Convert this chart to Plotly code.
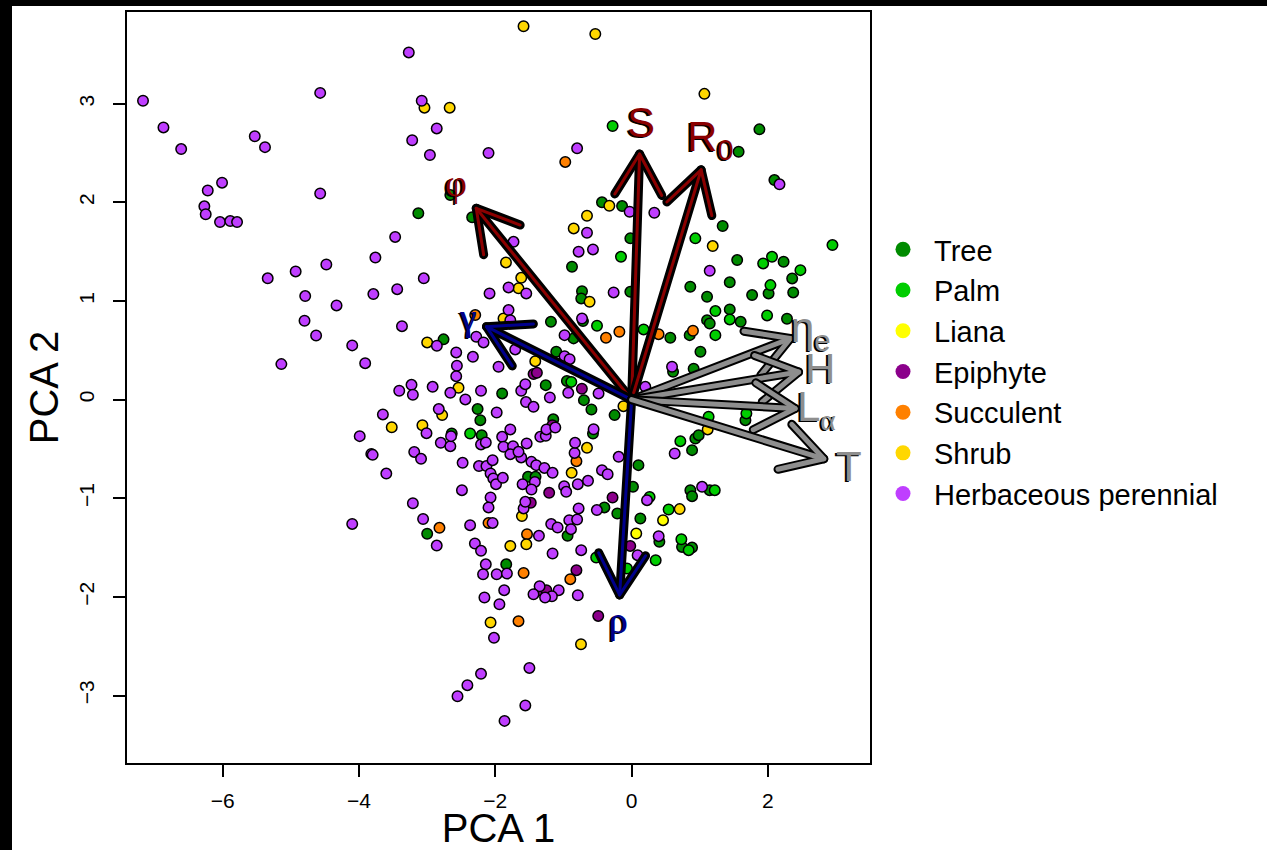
import math
import plotly.graph_objects as go

# ---------------- data ----------------
categories = ["Tree", "Palm", "Liana", "Epiphyte", "Succulent", "Shrub", "Herbaceous perennial"]
colors = ["#008B00", "#00CD00", "#FFFF00", "#8B008B", "#FF8000", "#FFD700", "#BF3EFF"]

tree_x = [-3.13, -2.34, -2.66, -0.435, -0.14, 1.336, 1.875, 1.57, 2.095, -0.875, -0.019, -0.728, -0.739,
          -0.019, 0.861, 1.549, 2.23, 2.356, 1.44, 1.107, 1.768, 2.01, 2.371, 1.44, 1.60, 2.28, 1.107, 1.146,
          0.852, 0.568, -0.714, -1.184, -0.852, -2.76, -1.106, -0.95, 0.608, 1.01, 0.91,
          -1.90, -1.26, -0.70, -0.59, -0.25, -2.26, -2.22, -2.64, -2.20, -1.15, -1.84, -1.52, -1.41, -0.567,
          0.10, 0.02, -0.40, -0.94, 0.128, -0.21, -3.0,
          1.67, 0.935, 0.984, 0.887, 0.862, 0.887, 1.146, 0.407, 0.74, 0.887]
tree_y = [1.89, 1.848, 2.074, 2.0, 1.962, 1.76, 2.74, 2.513, 2.226, 1.347, 1.635, 1.10, 1.026,
          1.093, 1.144, 1.415, 1.398, 1.229, 1.189, 1.043, 1.06, 1.077, 1.087, 0.915, 0.789, 0.82, 0.806, 0.772,
          0.654, 0.627, 0.796, 0.789, 0.621, 0.611, 0.485, 0.19, 0.282, 0.485, 0.313,
          0.063, 0.147, -0.005, -0.10, -0.157, -0.096, -0.208, -0.343, -0.36, -0.20, -1.67, -0.783, -0.783, -0.343,
          -0.664, -0.884, -1.093, -1.381, -1.205, -1.155, -1.36,
          -0.208, -0.394, -0.36, -0.512, -0.918, -0.979, -0.918, -1.442, -1.493, -1.50]

palm_x = [-0.279, 0.935, 2.947, -0.156, 1.93, 2.06, 2.477, 2.037, 1.229, 1.44, 1.988, 1.229, 0.176, -0.508,
          -0.885, -2.37, 0.264, -0.52, 1.684, 1.13, 0.715, 1.22, 0.543, 0.73, 0.837, 0.353, -0.068]
palm_y = [2.774, 1.635, 1.567, 1.448, 1.381, 1.448, 1.313, 1.161, 0.898, 0.813, 0.854, 0.654, 0.712, 0.749,
          0.18, -0.343, -0.986, -1.60, -0.14, -0.174, -0.421, -0.918, -1.114, -1.415, -1.526, -1.628, -1.712]

liana_x = [0.068, 0.461]
liana_y = [-1.357, -1.222]

epiphyte_x = [-0.73, -1.163, -1.48, -1.21, -0.81, -1.35, -1.25, -0.28, -0.02, -0.49, -1.439, -1.39]
epiphyte_y = [0.11, -0.259, -1.046, -0.945, -1.729, -1.932, -1.932, -0.992, -1.483, -2.193, 0.259, 0.272]

succulent_x = [-0.974, 0.90, 0.396, -0.18, -0.376, -2.295, -2.10, -1.66, -1.585, -0.81, -1.535, -0.90, -2.82]
succulent_y = [2.41, 0.698, 0.664, 0.688, 0.627, 0.857, -1.25, -2.246, -1.757, -0.624, -1.364, -1.82, -1.30]

shrub_x = [-3.04, -2.67, -3.0, -3.52, -3.07, -2.54, -2.78, -0.12, -2.07, -1.78, -1.61, -0.880, -0.655, -1.545,
           -0.743, 1.116, 0.705, -1.586, -0.533, 1.068, -0.327, 1.19, -0.655, -0.85, -1.844, -1.62, -1.66,
           -0.617, -1.88, -1.414]
shrub_y = [2.96, 2.96, 0.58, -0.28, -0.26, 0.12, -0.157, -0.066, -2.26, -1.483, -1.181, -0.742, -0.489, -1.466,
           -2.48, -0.302, -1.11, 3.785, 3.707, 3.10, 1.966, 1.557, 1.864, 1.736, 1.391, 1.235, 1.128,
           0.992, 0.823, 0.39]

herb_x = [-7.17, -6.87, -6.61, -6.01, -6.22, -6.27, -6.25, -6.04, -5.89, -5.79, -5.53, -5.38, -4.57, -4.57,
          -3.27, -3.08, -2.86, -3.22, -2.96, -3.47, -3.76, -5.34, -4.93, -4.48, -4.79, -3.79, -3.44, -3.05,
          -4.33, -4.80, -4.63, -4.10, -3.37, -5.14, -3.91, -3.23, -3.41, -3.21, -3.65, -3.01, -3.99, -3.82,
          -3.80, -3.19, -3.09, -3.60, -3.21, -3.06, -4.10, -2.86,
          -2.92, -2.66, -2.44, -2.21, -1.62, -1.56, -1.55, -1.44, -1.20, -0.93, -0.485, -2.83, -1.98, -2.80,
          -2.66, -2.65, -2.21, -2.14, -1.90, -1.78, -1.88, -1.74, -1.78, -1.62, -1.66, -1.54, -1.34, -1.26,
          -1.25, -1.12, -2.48, -2.24, -2.13, -2.04, -2.07, -2.03, -1.99, -1.89, -2.49, -2.07, -2.10, -2.37,
          -2.04, -2.30, -2.21, -2.14, -2.18, -1.98, -1.83, -1.87, -2.16, -1.94, -1.585, -1.56, -1.60, -1.42,
          -1.47, -1.47, -1.40, -1.28, -1.16, -0.99, -0.96, -0.79, -0.64, -0.837, -0.83, -0.558, -0.435,
          -0.352, -0.19, -0.51, -0.778, -0.915, -0.80, -0.89, -1.18, -1.086, -1.36, -1.16, -0.74, -0.79,
          -1.07, -1.17, -1.27, -1.35, -1.44, 0.088, 0.226,
          -2.02, -1.50, -2.21, -2.41, -2.555, -1.56, -1.865,
          0.632, 1.034, 0.397,
          -2.10, -0.80, 2.17, -0.029, 0.333, -0.655, -0.778, -0.567, -1.733, -1.806, -1.546, -2.085, -0.264,
          1.146, -0.984, -0.728, -1.806, -1.78, -2.858, -2.28, -2.173, -2.574, -2.329, -2.564, -2.574,
          -1.953, -1.708, -0.984, -0.91, 0.201, 0.593]
herb_y = [3.03, 2.76, 2.54, 2.20, 2.12, 1.96, 1.88, 1.80, 1.81, 1.80, 2.67, 2.56, 3.11, 2.09,
          3.52, 3.03, 2.75, 2.63, 2.48, 1.65, 1.44, 1.23, 1.30, 1.37, 1.05, 1.07, 1.12, 1.23,
          0.955, 0.80, 0.65, 0.55, 0.745, 0.36, 0.37, 0.15, 0.09, 0.05, -0.15, -0.34, -0.37, -0.55,
          -0.56, -0.53, -0.60, -0.75, -1.05, -1.21, -1.26, -1.48,
          0.13, 0.069, 0.002, 0.09, 0.09, 0.157, -0.025, -0.073, 0.022, 0.069, 0.063, -0.096, -0.13, -0.438,
          -0.472, -0.37, -0.454, -0.434, -0.377, -0.302, -0.478, -0.472, -0.553, -0.586, -0.529, -0.444, -0.377, -0.367,
          -0.302, -0.282, -0.641, -0.674, -0.674, -0.614, -0.748, -0.799, -0.857, -0.793, -0.918, -0.992, -1.093, -1.273,
          -1.25, -1.459, -1.533, -1.67, -1.77, -1.77, -1.763, -1.932, -2.006, -2.074, -1.103, -1.036, -0.857, -0.834,
          -0.911, -0.631, -0.664, -0.692, -0.742, -0.877, -0.935, -0.857, -0.823, -0.54, -0.438, -0.30, -0.715,
          -0.756, -0.58, -1.12, -1.103, -1.222, -1.215, -1.313, -1.262, -1.296, -1.381, -1.56, -1.526, -1.983,
          -1.932, -1.993, -2.006, -1.892, -1.973, -1.577, -1.019,
          -2.415, -2.72, -2.78, -2.895, -3.007, -3.10, -3.257,
          -0.546, -0.884, -1.384,
          2.50, 2.548, 2.183, 1.905, 1.895, 1.692, 1.50, 1.523, 1.60, 1.138, 1.077, 1.077, 1.087,
          1.306, 0.654, 0.823, 0.908, 0.806, 0.546, 0.637, 0.58, 0.479, 0.434, 0.343, 0.238,
          0.333, 0.509, 0.44, 0.41, 0.13, 0.333]

series_x = [tree_x, palm_x, liana_x, epiphyte_x, succulent_x, shrub_x, herb_x]
series_y = [tree_y, palm_y, liana_y, epiphyte_y, succulent_y, shrub_y, herb_y]

# loading arrows (biplot vectors)
arrow_labels = ["S", "R<sub>0</sub>", "φ", "γ", "ρ", "η<sub>e</sub>", "H",
                "L<sub><span style='font-family:Liberation Serif'>α</span></sub>", "T"]
arrow_x = [0.117, 1.02, -2.28, -2.13, -0.176, 2.33, 2.45, 2.40, 2.82]
arrow_y = [2.49, 2.33, 1.94, 0.74, -1.98, 0.62, 0.28, -0.09, -0.60]
arrow_group = ["red", "red", "red", "blue", "blue", "gray", "gray", "gray", "gray"]

x_ticks = [-6, -4, -2, 0, 2]
y_ticks = [-3, -2, -1, 0, 1, 2, 3]

# ---------------- layout constants ----------------
W, H = 1267, 850
ML, MR, MT, MB = 127, 397, 12, 87
XR = [-7.405, 3.498]
YR = [-3.684, 3.93]
sx = (W - ML - MR) / (XR[1] - XR[0])
sy = (H - MT - MB) / (YR[1] - YR[0])

group_color = {"red": "#8B0000", "blue": "#00008B", "gray": "#8E8E8E"}
group_width = {"red": 3, "blue": 3, "gray": 5}
greek_serif = {"φ", "γ", "ρ"}
HEAD_LEN = 47  # px
HEAD_ANG = math.radians(30)
LABEL_SCALE = 1.13

fig = go.Figure()

# points
for name, col, xs, ys in zip(categories, colors, series_x, series_y):
    fig.add_trace(go.Scatter(
        x=xs, y=ys, mode="markers", name=name, showlegend=False,
        marker=dict(size=10.5, color=col, line=dict(color="black", width=1.5)),
        hoverinfo="skip"))

# arrows
for lab, ax, ay, grp in zip(arrow_labels, arrow_x, arrow_y, arrow_group):
    dxp, dyp = ax * sx, ay * sy
    n = math.hypot(dxp, dyp)
    ux, uy = -dxp / n, -dyp / n
    arms = []
    for a in (HEAD_ANG, -HEAD_ANG):
        rx = ux * math.cos(a) - uy * math.sin(a)
        ry = ux * math.sin(a) + uy * math.cos(a)
        arms.append((ax + rx * HEAD_LEN / sx, ay + ry * HEAD_LEN / sy))
    px = [0, ax, None, arms[0][0], ax, arms[1][0]]
    py = [0, ay, None, arms[0][1], ay, arms[1][1]]
    fig.add_trace(go.Scatter(x=px, y=py, mode="lines", showlegend=False, hoverinfo="skip",
                             line=dict(color="black", width=9)))
    fig.add_trace(go.Scatter(x=px, y=py, mode="lines", showlegend=False, hoverinfo="skip",
                             line=dict(color=group_color[grp], width=group_width[grp])))

# legend-only entries (solid dots as in the original legend)
for name, col in zip(categories, colors):
    fig.add_trace(go.Scatter(x=[None], y=[None], mode="markers", name=name,
                             marker=dict(size=15, color=col)))

# arrow labels with dark shadow
for lab, ax, ay, grp in zip(arrow_labels, arrow_x, arrow_y, arrow_group):
    serif = lab in greek_serif
    fam = "Liberation Serif" if serif else "Liberation Sans"
    size = 38 if serif else 42
    for col, xs_, ys_ in (("black", -2, -1), (group_color[grp], 0, 0)):
        fig.add_annotation(x=ax * LABEL_SCALE, y=ay * LABEL_SCALE, text=lab, showarrow=False,
                           xanchor="center", yanchor="middle", xshift=xs_, yshift=ys_,
                           font=dict(family=fam, size=size, color=col))

# black frame bars at left and top of the image
pw = W - ML - MR
ph = H - MT - MB
fig.add_shape(type="rect", xref="paper", yref="paper", layer="below",
              x0=-ML / pw - 0.01, x1=(12 - ML) / pw, y0=-MB / ph - 0.05, y1=(ph + MT) / ph + 0.05,
              fillcolor="black", line=dict(width=0))
fig.add_shape(type="rect", xref="paper", yref="paper", layer="below",
              x0=-ML / pw - 0.01, x1=(W - ML) / pw + 0.01, y0=(ph + MT - 6) / ph, y1=(ph + MT) / ph + 0.05,
              fillcolor="black", line=dict(width=0))

axis_common = dict(showgrid=False, zeroline=False, showline=True, linecolor="black", linewidth=1.5,
                   mirror=True, ticks="outside", ticklen=12, tickwidth=1.5, tickcolor="black",
                   tickfont=dict(size=21, color="black", family="Liberation Sans"))

fig.update_layout(
    width=W, height=H,
    margin=dict(l=ML, r=MR, t=MT, b=MB, autoexpand=False),
    paper_bgcolor="white", plot_bgcolor="white",
    font=dict(family="Liberation Sans", color="black"),
    xaxis=dict(range=XR, tickvals=x_ticks, ticklabelstandoff=6,
               title=dict(text="PCA 1", font=dict(size=40), standoff=2), **axis_common),
    yaxis=dict(range=YR, tickvals=y_ticks, tickangle=-90, ticklabelstandoff=11,
               title=dict(text="PCA 2", font=dict(size=40), standoff=4), **axis_common),
    legend=dict(x=(872 - ML) / pw, y=(ph + MT - 224) / ph, xanchor="left", yanchor="top",
                font=dict(size=29, family="Liberation Sans", color="black"),
                itemwidth=52, bgcolor="rgba(0,0,0,0)", borderwidth=0, tracegroupgap=0),
    hovermode=False,
    showlegend=True,
)

post = ("document.body.style.margin='0';document.body.style.overflow='hidden';"
        "document.querySelectorAll('path.js-line').forEach(function(p){"
        "p.style.strokeLinejoin='round';p.style.strokeLinecap='round';});")
fig.write_html("out.html", post_script=post, config={"displayModeBar": False})
